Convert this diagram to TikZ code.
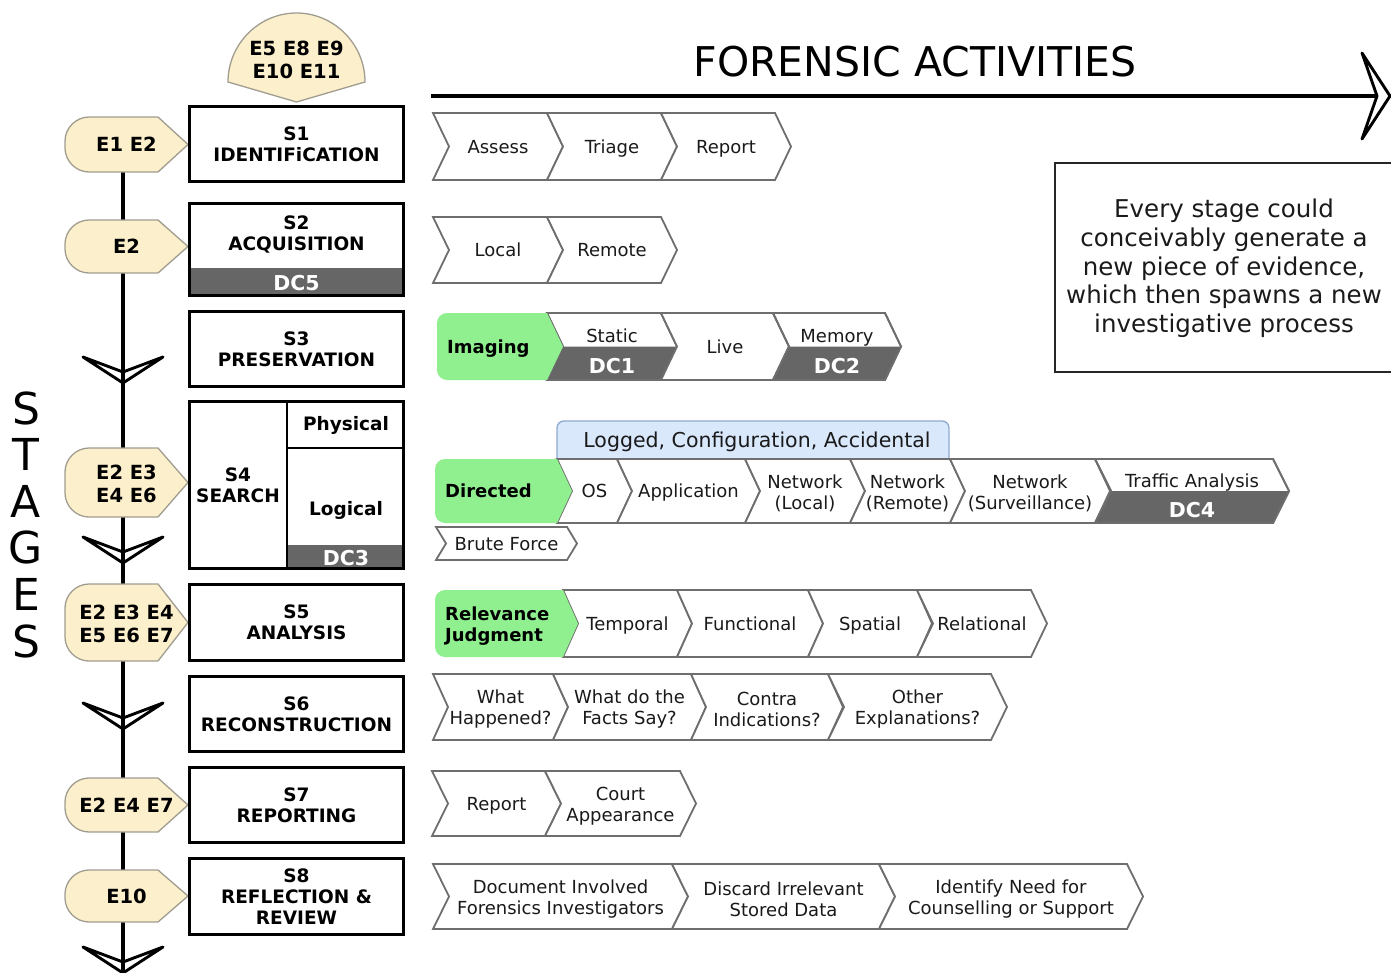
\documentclass[tikz,border=0pt]{standalone}
\usepackage{fontspec}
\setmainfont{DejaVu Sans}
\definecolor{tagfill}{HTML}{FCEFCB}
\definecolor{tagline}{HTML}{A09C90}
\definecolor{chevline}{HTML}{6E6E6E}
\definecolor{darkband}{HTML}{666666}
\definecolor{greenfill}{HTML}{90F090}
\definecolor{bluefill}{HTML}{DAE8FC}
\definecolor{blueline}{HTML}{8FAAD0}
\definecolor{txtcol}{HTML}{1A1A1A}
\tikzset{
  stageframe/.style={draw=black, line width=2.6pt, fill=white},
  stagetxt/.style={font=\bfseries\fontsize{18.5}{21}\selectfont, align=center, inner sep=0pt},
  tagshape/.style={draw=tagline, fill=tagfill, line width=1.3pt},
  tagtxt/.style={font=\bfseries\fontsize{19.5}{23}\selectfont, align=center, inner sep=0pt},
  tagone/.style={text height=14.2pt, text depth=0pt},
  tagmulti/.style={yshift=-1.5pt},
  mainline/.style={line width=3.5pt, draw=black},
  vhead/.style={draw=black, line width=2.9pt, line join=round},
  chevbox/.style={draw=chevline, fill=white, line width=1.8pt},
  chevedge/.style={draw=chevline, line width=1.8pt},
  chevtxt/.style={font=\fontsize{18}{21}\selectfont, align=center, inner sep=0pt, text=txtcol},
  oneline/.style={text height=13pt, text depth=0pt},
  multi/.style={yshift=-2.5pt},
  dctxt/.style={font=\bfseries\fontsize{20.5}{24}\selectfont, text=white, inner sep=0pt, text height=15pt, text depth=0pt},
  greenshape/.style={fill=greenfill},
  greentxt/.style={font=\bfseries\fontsize{18}{21}\selectfont, align=left, anchor=west, inner sep=0pt},
  bluebox/.style={draw=blueline, fill=bluefill, line width=1.3pt},
  bluetxt/.style={font=\fontsize{20.5}{24}\selectfont, inner sep=0pt, text height=15pt, text depth=0pt, text=txtcol},
  notebox/.style={draw=black!85, line width=2.2pt},
  notetxt/.style={font=\fontsize{24.5}{28.7}\selectfont, align=center, inner sep=0pt, text=txtcol},
  titletxt/.style={font=\fontsize{41}{48}\selectfont, inner sep=0pt, text height=30pt, text depth=0pt},
  stagesletters/.style={font=\fontsize{44}{46.6}\selectfont, align=center, inner sep=0pt},
}
% chevron: [node options], name, xl, xr, top, bot, depth, text
\newcommand\chev[8][multi]{%
  \draw[chevbox] (#3,#5) -- (#4,#5) -- ({#4+#7},{(#5+#6)/2}) -- (#4,#6) -- (#3,#6) -- ({#3+#7},{(#5+#6)/2}) -- cycle;
  \node[chevtxt,#1] (#2) at ({(#3+#4)/2+#7/2},{(#5+#6)/2}) {#8};%
}
% band chevron: name, xl, xr, top, bot, depth, top text, band text
\newcommand\bchev[8]{%
  \draw[chevbox] (#2,#4) -- (#3,#4) -- ({#3+#6},{(#4+#5)/2}) -- (#3,#5) -- (#2,#5) -- ({#2+#6},{(#4+#5)/2}) -- cycle;
  \fill[darkband] ({#2+#6},{(#4+#5)/2}) -- ({#3+#6},{(#4+#5)/2}) -- (#3,#5) -- (#2,#5) -- cycle;
  \draw[chevedge] (#2,#4) -- (#3,#4) -- ({#3+#6},{(#4+#5)/2}) -- (#3,#5) -- (#2,#5) -- ({#2+#6},{(#4+#5)/2}) -- cycle;
  \node[chevtxt,oneline] (#1) at ({(#2+#3)/2+#6/2},{(#4+#5)/2-10.5}) {#7};
  \node[dctxt] (#1dc) at ({(#2+#3)/2+#6/2},{(#4+#5)/2+19}) {#8};%
}
% green box: [node options], name, xl, xr, top, bot, depth, text
\newcommand\gbox[8][multi]{%
  \fill[greenshape] ({#3+10},#5) -- (#4,#5) -- ({#4+#7},{(#5+#6)/2}) -- (#4,#6) -- ({#3+10},#6)
    .. controls ({#3+4.5},#6) and (#3,{#6-4.5}) .. (#3,{#6-10}) -- (#3,{#5+10})
    .. controls (#3,{#5+4.5}) and ({#3+4.5},#5) .. ({#3+10},#5) -- cycle;
  \node[greentxt,#1] (#2) at ({#3+10},{(#5+#6)/2}) {#8};%
}
% yellow tag: [node options], name, top, bot, text
\newcommand\etag[5][tagmulti]{%
  \draw[tagshape] (188,{(#3+#4)/2}) -- (158,#3) -- (89,#3) .. controls (76,#3) and (65,{#3+11}) .. (65,{#3+24})
    -- (65,{#4-24}) .. controls (65,{#4-11}) and (76,#4) .. (89,#4) -- (158,#4) -- cycle;
  \node[tagtxt,#1] (#2) at (126.5,{(#3+#4)/2}) {#5};%
}
\newcommand\vhd[1]{%
  \draw[vhead] (83,#1) -- (123,{#1+15}) -- (163,#1) -- (123,{#1+26}) -- cycle;%
}
\begin{document}
\begin{tikzpicture}[x=1pt,y=-1pt]
\useasboundingbox (0,0) rectangle (1391,972);

% ---------- title and activity axis ----------
\node[titletxt] (title) at (915,61) {FORENSIC ACTIVITIES};
\coordinate (axl) at (431,96);
\coordinate (axr) at (1377,96);
\draw[mainline] (axl) -- (axr);
\draw[vhead] (1362,53) -- (1390,96) -- (1362,139) -- (1377,96) -- cycle;

% ---------- note box ----------
\draw[notebox] (1392,163) -- (1055,163) -- (1055,372) -- (1392,372);
\node[notetxt] (note) at (1224,268.5) {Every stage could\\conceivably generate a\\new piece of evidence,\\which then spawns a new\\investigative process};

% ---------- STAGES ----------
\node[stagesletters] (stages) at (26,524.5) {S\\T\\A\\G\\E\\S};

% ---------- stage line ----------
\coordinate (ltop) at (123,170);
\coordinate (lbot) at (123,972);
\draw[mainline] (ltop) -- (lbot);
\vhd{357}
\vhd{537}
\vhd{703}
\vhd{947}

% ---------- top tag ----------
\draw[tagshape] (228,82) .. controls (228,44) and (259,13) .. (296.5,13) .. controls (334,13) and (365,44) .. (365,82) -- (296.5,102) -- cycle;
\node[tagtxt] (t0) at (296.5,59.5) {E5 E8 E9\\E10 E11};

% ---------- tags ----------
\etag[tagone]{t1}{117}{172}{E1 E2}
\etag[tagone]{t2}{220}{273}{E2}
\etag{t3}{448}{517}{E2 E3\\E4 E6}
\etag{t4}{584}{661}{E2 E3 E4\\E5 E6 E7}
\etag[tagone]{t5}{778}{832}{E2 E4 E7}
\etag[tagone]{t6}{870}{922}{E10}

% ---------- stage boxes ----------
\node[stageframe, stagetxt, minimum width=214pt, minimum height=75pt] (s1) at (296.5,144) {S1\\IDENTIFiCATION};

\draw[stageframe] (189.5,203.5) rectangle (403.5,295.5);
\fill[darkband] (189.5,268) rectangle (403.5,295.5);
\draw[stageframe, fill=none] (189.5,203.5) rectangle (403.5,295.5);
\node[stagetxt] (s2) at (296.5,234) {S2\\ACQUISITION};
\node[dctxt] (dc5) at (296.5,283) {DC5};

\node[stageframe, stagetxt, minimum width=214pt, minimum height=75pt] (s3) at (296.5,349) {S3\\PRESERVATION};

\draw[stageframe] (189.5,401.5) rectangle (403.5,568.5);
\fill[darkband] (287,545) rectangle (403.5,568.5);
\draw[stageframe, fill=none] (189.5,401.5) rectangle (403.5,568.5);
\draw[stageframe] (287,401.5) -- (287,568.5);
\draw[stageframe] (287,448) -- (403.5,448);
\node[stagetxt] (s4) at (238,485) {S4\\SEARCH};
\node[stagetxt, text height=13.5pt, text depth=0pt] (phys) at (346,424) {Physical};
\node[stagetxt, text height=13.5pt, text depth=0pt] (logi) at (346,509) {Logical};
\node[dctxt] (dc3) at (346,558) {DC3};

\node[stageframe, stagetxt, minimum width=214pt, minimum height=76pt] (s5) at (296.5,622.5) {S5\\ANALYSIS};
\node[stageframe, stagetxt, minimum width=214pt, minimum height=75pt] (s6) at (296.5,714) {S6\\RECONSTRUCTION};
\node[stageframe, stagetxt, minimum width=214pt, minimum height=75pt] (s7) at (296.5,805) {S7\\REPORTING};
\node[stageframe, stagetxt, minimum width=214pt, minimum height=76pt] (s8) at (296.5,896.5) {S8\\REFLECTION \&\\REVIEW};

% ---------- row 1 ----------
\chev[oneline]{assess}{433}{547}{113}{180}{16}{Assess}
\chev[oneline]{triage}{547}{661}{113}{180}{16}{Triage}
\chev[oneline]{reporta}{661}{775}{113}{180}{16}{Report}

% ---------- row 2 ----------
\chev[oneline]{local}{433}{547}{217}{283}{16}{Local}
\chev[oneline]{remote}{547}{661}{217}{283}{16}{Remote}

% ---------- row 3 ----------
\bchev{static}{547}{661}{313}{380}{16}{Static}{DC1}
\chev[oneline]{live}{661}{773}{313}{380}{16}{Live}
\bchev{memory}{773}{885}{313}{380}{16}{Memory}{DC2}
\gbox[oneline]{imaging}{437}{547}{313}{380}{16}{Imaging}

% ---------- row 4 ----------
\draw[bluebox] (557,459) -- (557,428) .. controls (557,424) and (560,421) .. (564,421) -- (942,421) .. controls (946,421) and (949,424) .. (949,428) -- (949,459);
\node[bluetxt] (logged) at (757,440) {Logged, Configuration, Accidental};
\chev[oneline]{os}{557}{617}{459}{523}{15}{OS}
\chev[oneline]{application}{617}{745}{459}{523}{15}{Application}
\chev{netlocal}{745}{850}{459}{523}{15}{Network\\(Local)}
\chev{netremote}{850}{950}{459}{523}{15}{Network\\(Remote)}
\chev{netsurv}{950}{1095}{459}{523}{15}{Network\\(Surveillance)}
\bchev{traffic}{1095}{1273}{459}{523}{16}{Traffic Analysis}{DC4}
\gbox[oneline]{directed}{435}{557}{459}{523}{15}{Directed}
\chev[oneline]{brute}{436}{567}{527}{560}{10}{Brute Force}

% ---------- row 5 ----------
\chev[oneline]{temporal}{563}{677}{590}{657}{15}{Temporal}
\chev[oneline]{functional}{677}{808}{590}{657}{15}{Functional}
\chev[oneline]{spatial}{808}{917}{590}{657}{15}{Spatial}
\chev[oneline]{relational}{917}{1031}{590}{657}{16}{Relational}
\gbox{relevance}{435}{563}{590}{657}{15}{Relevance\\Judgment}

% ---------- row 6 ----------
\chev{whathap}{433}{553}{674}{740}{15}{What\\Happened?}
\chev{facts}{553}{691}{674}{740}{15}{What do the\\Facts Say?}
\chev{contra}{691}{828}{674}{740}{15}{Contra\\Indications?}
\chev{other}{828}{991}{674}{740}{16}{Other\\Explanations?}

% ---------- row 7 ----------
\chev[oneline]{reportb}{432}{545}{771}{836}{16}{Report}
\chev{court}{545}{680}{771}{836}{16}{Court\\Appearance}

% ---------- row 8 ----------
\chev{document}{433}{672}{864}{929}{16}{Document Involved\\Forensics Investigators}
\chev{discard}{672}{879}{864}{929}{16}{Discard Irrelevant\\Stored Data}
\chev{identify}{879}{1127}{864}{929}{16}{Identify Need for\\Counselling or Support}

\end{tikzpicture}
\end{document}
